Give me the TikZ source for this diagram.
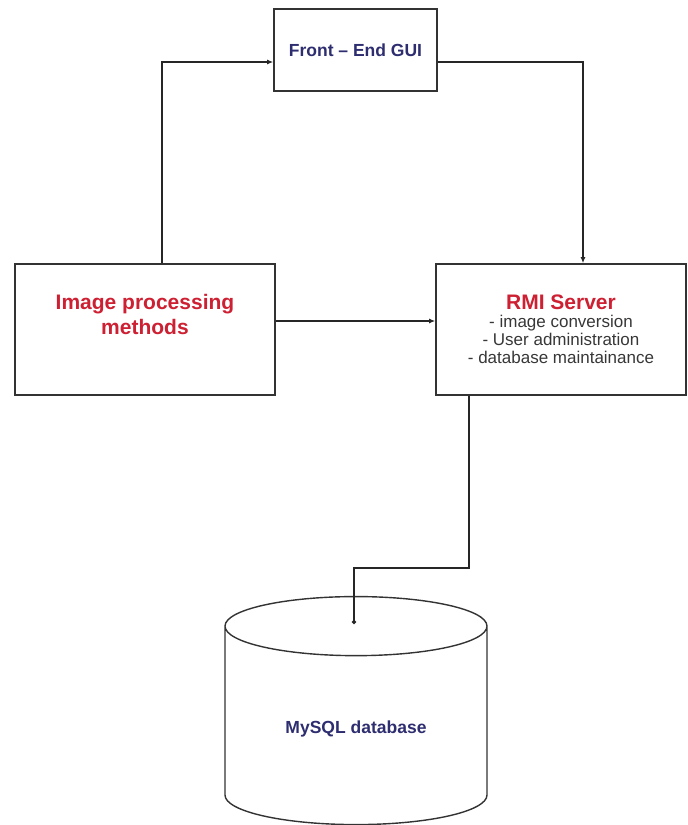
\documentclass[tikz,border=0pt]{standalone}
\usepackage{fontspec}
\setmainfont{Liberation Sans}
\usetikzlibrary{shapes.geometric,arrows.meta}
\definecolor{labred}{RGB}{205,32,50}
\definecolor{labnavy}{RGB}{45,45,112}
\definecolor{labgray}{RGB}{55,55,55}

\begin{document}
\begin{tikzpicture}[x=1pt, y=-1pt,
  blk/.style={draw=black!80, line width=1.6pt, align=center},
  conn/.style={-{Latex[length=6pt,width=5pt]}, draw=black!85, line width=1.4pt},
  dbconn/.style={-{Circle[length=4pt]}, draw=black!85, line width=1.4pt}
]
\useasboundingbox (0,0) rectangle (688,825);
\node[blk, minimum width=163pt, minimum height=82pt, text=labnavy, font=\fontsize{17.5}{20}\selectfont\bfseries] (gui) at (355.5,50) {Front -- End GUI};
\node[blk, minimum width=260pt, minimum height=131pt, text=labred, text depth=30pt, font=\fontsize{21}{25}\selectfont\bfseries] (imgproc) at (145,329.5) {Image processing\\methods};
\node[blk, minimum width=250pt, minimum height=131pt, text=labgray, font=\fontsize{17}{18}\selectfont] (rmi) at (561,329.5) {{\fontsize{21}{21}\selectfont\bfseries\color{labred}RMI Server}\\- image conversion\\- User administration\\- database maintainance};
\node[cylinder, shape border rotate=90, draw=black!80, line width=1.4pt, aspect=0.4, minimum width=262pt, minimum height=228pt, text=labnavy, font=\fontsize{17.5}{20}\selectfont\bfseries] (db) at (356,729) {MySQL database};
\coordinate (dbhub) at (354,624);

\draw[conn] ([xshift=17pt]imgproc.north) |- ([yshift=-12pt]gui.west);
\draw[conn] ([yshift=-12pt]gui.east) -| ([xshift=22pt]rmi.north);
\draw[conn] ([yshift=8.5pt]imgproc.east) -- ([yshift=8.5pt]rmi.west);
\draw[dbconn] ([xshift=-92pt]rmi.south) -- ++(0,172) -| (dbhub);
\end{tikzpicture}
\end{document}
